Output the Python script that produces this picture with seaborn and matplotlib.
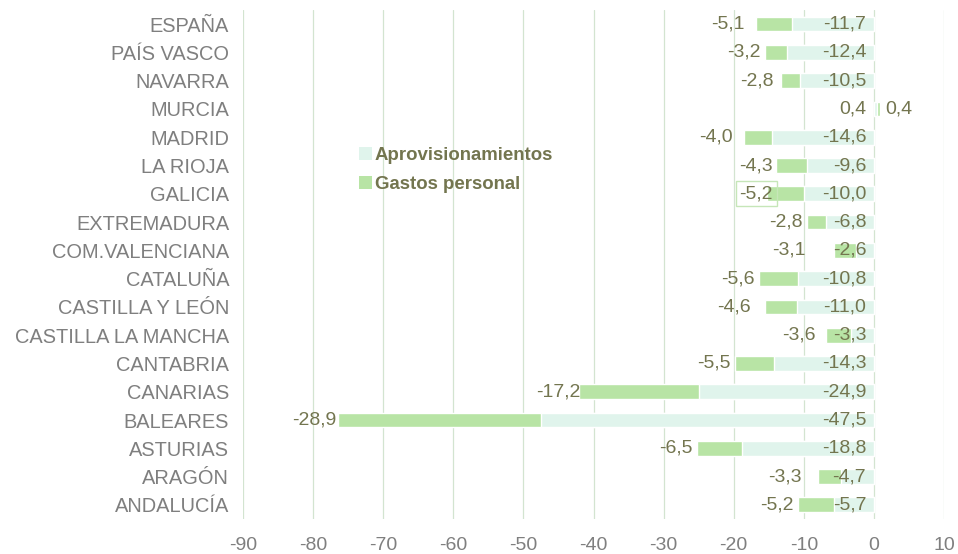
import numpy as np
import pandas as pd
import seaborn as sns
import matplotlib.pyplot as plt
from matplotlib.patches import Patch

regions = ["ESPAÑA", "PAÍS VASCO", "NAVARRA", "MURCIA", "MADRID", "LA RIOJA",
           "GALICIA", "EXTREMADURA", "COM.VALENCIANA", "CATALUÑA",
           "CASTILLA Y LEÓN", "CASTILLA LA MANCHA", "CANTABRIA", "CANARIAS",
           "BALEARES", "ASTURIAS", "ARAGÓN", "ANDALUCÍA"]
aprov = [-11.7, -12.4, -10.5, 0.4, -14.6, -9.6, -10.0, -6.8, -2.6, -10.8,
         -11.0, -3.3, -14.3, -24.9, -47.5, -18.8, -4.7, -5.7]
gastos = [-5.1, -3.2, -2.8, 0.4, -4.0, -4.3, -5.2, -2.8, -3.1, -5.6,
          -4.6, -3.6, -5.5, -17.2, -28.9, -6.5, -3.3, -5.2]

df = pd.DataFrame({"region": regions, "aprov": aprov, "gastos": gastos})
df["total"] = df["aprov"] + df["gastos"]

# gap (in data units) between end of bar and the gastos label, as placed in the original
label_gap = {"ESPAÑA": 1.6, "NAVARRA": 1.0, "MADRID": 1.6, "GALICIA": -0.8,
             "COM.VALENCIANA": 4.1, "CASTILLA Y LEÓN": 2.0,
             "CASTILLA LA MANCHA": 1.4, "ARAGÓN": 2.3, "CANARIAS": -0.2,
             "BALEARES": 0.3}

MINT = "#E0F4EC"
GREEN = "#B8E4A5"
OLIVE = "#73754F"
GREY = "#7F7F7F"

sns.set_style("white")
plt.rcParams["font.family"] = ["Liberation Sans", "DejaVu Sans"]
plt.rcParams["axes.unicode_minus"] = False

fig = plt.figure(figsize=(9.58, 5.54), dpi=100)
ax = fig.add_axes([0.2537, 0.0632, 0.7317, 0.9188])

sns.barplot(data=df, x="total", y="region", color=GREEN, width=0.52,
            saturation=1, ax=ax, zorder=2)
sns.barplot(data=df, x="aprov", y="region", color=MINT, width=0.52,
            saturation=1, ax=ax, zorder=3)

ax.set_xlim(-90, 10)
ax.set_xticks(np.arange(-90, 11, 10))
ax.set_xlabel("")
ax.set_ylabel("")
ax.grid(axis="x", color="#D3E4D0", lw=0.9, zorder=0)
ax.grid(axis="y", visible=False)
ax.set_axisbelow(True)
for s in ax.spines.values():
    s.set_visible(False)
ax.tick_params(axis="x", length=0, pad=13, labelsize=14, labelcolor=GREY)
ax.tick_params(axis="y", length=0, pad=10, labelsize=14.4, labelcolor=GREY)

fmt = lambda v: f"{v:.1f}".replace(".", ",")
for i, row in df.iterrows():
    ax.text(-1.1, i, fmt(row["aprov"]), ha="right", va="center",
            fontsize=14, color=OLIVE, zorder=5)
    gap = label_gap.get(row["region"], 0.6)
    if row["total"] < 0:
        t = ax.text(row["total"] - gap, i, fmt(row["gastos"]), ha="right",
                    va="center", fontsize=14, color=OLIVE, zorder=5)
    else:
        t = ax.text(row["total"] + 0.8, i, fmt(row["gastos"]), ha="left",
                    va="center", fontsize=14, color=OLIVE, zorder=5)
    if row["region"] == "GALICIA":
        t.set_bbox(dict(facecolor="none", edgecolor="#C6E6B8", lw=1,
                        boxstyle="square,pad=0.2"))

handles = [Patch(facecolor=MINT, edgecolor="none", label="Aprovisionamientos"),
           Patch(facecolor=GREEN, edgecolor="none", label="Gastos personal")]
leg = ax.legend(handles=handles, loc="upper left",
                bbox_to_anchor=(359 / 958, 1 - 147 / 554),
                bbox_transform=fig.transFigure, frameon=False, borderpad=0,
                borderaxespad=0, handlelength=0.7, handleheight=0.7,
                handletextpad=0.15, labelspacing=0.62,
                prop={"size": 13.4, "weight": "bold"})
for txt in leg.get_texts():
    txt.set_color(OLIVE)

fig.savefig("out.png", dpi=100)
